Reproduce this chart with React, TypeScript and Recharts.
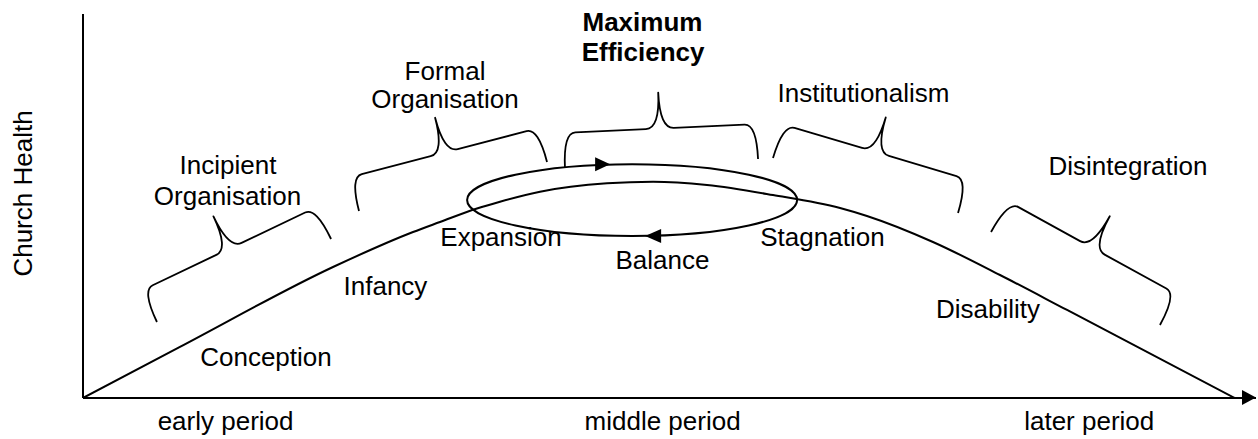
import React from 'react';
import {
  ComposedChart,
  Line,
  XAxis,
  YAxis,
  ReferenceArea,
  ReferenceLine,
  ReferenceDot,
} from 'recharts';

// Life-cycle curve (time vs. church health)
const curveX = [0, 8.43, 21.74, 28.7, 31.04, 34.26, 36.26, 39.74, 45.57, 49.57, 54.26, 60.0, 65.83, 68.17, 73.91, 79.74, 85.57, 100.15];
const curveY = [0, 13.3, 34.11, 43.23, 45.83, 49.35, 51.12, 53.72, 55.91, 56.33, 55.47, 52.86, 49.48, 47.4, 40.63, 32.03, 22.92, 0];

// x-axis period labels
const periodTicks = [12.4, 50.4, 87.5];
const periodLabels = ['early period', 'middle period', 'later period'];

// balance loop (ellipse extent)
const loopX = [33.4, 62.1];
const loopY = [42.2, 60.9];

// braces: start and end points
const braceX1 = [6.43, 24.0, 41.91, 60.0, 78.96];
const braceY1 = [19.79, 48.7, 59.9, 62.5, 43.23];
const braceX2 = [21.57, 40.35, 58.7, 76.09, 93.65];
const braceY2 = [41.41, 61.46, 62.24, 48.18, 19.01];

// stage labels (centre x, baseline y)
const labelText = [
  'Incipient', 'Organisation', 'Conception', 'Infancy', 'Formal', 'Organisation',
  'Maximum', 'Efficiency', 'Expansion', 'Balance', 'Institutionalism', 'Stagnation',
  'Disintegration', 'Disability',
];
const labelX = [12.61, 12.57, 15.91, 26.3, 31.48, 31.48, 48.65, 48.7, 36.35, 50.39, 67.87, 64.3, 90.87, 78.7];
const labelY = [58.33, 50.26, 8.33, 26.82, 82.81, 75.52, 95.57, 87.76, 39.58, 33.59, 77.08, 39.58, 58.07, 20.83];
const labelBold = [false, false, false, false, false, false, true, true, false, false, false, false, false, false];

const yAxisTitle = 'Church Health';

const FONT = '"Liberation Sans", Arial, Helvetica, sans-serif';

const curveData = curveX.map((x, i) => ({ x, y: curveY[i] }));

const PeriodTick = (props: any) => {
  const { x, y, payload } = props;
  const i = periodTicks.indexOf(payload.value);
  return (
    <text x={x} y={y + 32} textAnchor="middle" fontFamily={FONT} fontSize={26} fill="#000">
      {periodLabels[i]}
    </text>
  );
};

const braceShape = (p: any) => {
  const { x1, y1, x2, y2 } = p;
  if ([x1, y1, x2, y2].some((v) => typeof v !== 'number' || isNaN(v))) return <g />;
  const dx = x2 - x1;
  const dy = y2 - y1;
  const L = Math.hypot(dx, dy);
  const ux = dx / L;
  const uy = dy / L;
  const nx = uy;
  const ny = -ux;
  const d = 35;
  const t = 36;
  const h = 12;
  const w = 14;
  const m = L / 2;
  const P = (s: number, o: number) => `${(x1 + ux * s + nx * o).toFixed(2)},${(y1 + uy * s + ny * o).toFixed(2)}`;
  const path =
    `M${P(0, 0)} Q${P(0, d)} ${P(h, d)} L${P(m - w, d)} Q${P(m, d)} ${P(m, d + t)} ` +
    `Q${P(m, d)} ${P(m + w, d)} L${P(L - h, d)} Q${P(L, d)} ${P(L, 0)}`;
  return <path d={path} fill="none" stroke="#000" strokeWidth={1.8} strokeLinejoin="round" />;
};

const loopShape = (p: any) => {
  const { x, y, width, height } = p;
  if ([x, y, width, height].some((v) => typeof v !== 'number' || isNaN(v))) return <g />;
  const cx = x + width / 2;
  const cy = y + height / 2;
  const rx = width / 2;
  const ry = height / 2;
  const top = y;
  const bot = y + height;
  return (
    <g>
      <ellipse cx={cx} cy={cy} rx={rx} ry={ry} fill="none" stroke="#000" strokeWidth={2} />
      <polygon points={`${cx - 22},${top} ${cx - 37},${top - 7} ${cx - 37},${top + 7}`} fill="#000" />
      <polygon points={`${cx + 13},${bot} ${cx + 29},${bot - 7} ${cx + 29},${bot + 7}`} fill="#000" />
    </g>
  );
};

const arrowHead = (p: any) => {
  const { cx, cy } = p;
  return <polygon points={`${cx},${cy - 0.5} ${cx - 14},${cy - 8} ${cx - 14},${cy + 7}`} fill="#000" />;
};

const makeLabel = (i: number) => (p: any) => {
  const { cx, cy } = p;
  return (
    <text
      x={cx}
      y={cy}
      textAnchor="middle"
      fontFamily={FONT}
      fontSize={26}
      fontWeight={labelBold[i] ? 'bold' : 'normal'}
      fill="#000"
    >
      {labelText[i]}
    </text>
  );
};

const yTitle = (props: any) => {
  const vb = props.viewBox || { x: 0, y: 14, width: 83, height: 384 };
  const x = vb.x + 32;
  const y = vb.y + vb.height / 2 - 12.5;
  return (
    <text
      x={x}
      y={y}
      textAnchor="middle"
      fontFamily={FONT}
      fontSize={26}
      fill="#000"
      transform={`rotate(-90, ${x}, ${y})`}
    >
      {yAxisTitle}
    </text>
  );
};

export default function App() {
  return (
    <div style={{ position: 'absolute', left: 0, top: 0, width: 1258, height: 439, background: '#fff' }}>
      <ComposedChart
        width={1258}
        height={439}
        data={curveData}
        margin={{ top: 14, right: 2, bottom: 0, left: 0 }}
      >
        <XAxis
          type="number"
          dataKey="x"
          domain={[0, 102]}
          ticks={periodTicks}
          interval={0}
          tick={<PeriodTick />}
          tickLine={false}
          tickSize={0}
          tickMargin={0}
          axisLine={{ stroke: '#000', strokeWidth: 2 }}
          height={41}
          allowDataOverflow
        />
        <YAxis
          type="number"
          domain={[0, 100]}
          width={83}
          tick={false}
          tickLine={false}
          axisLine={{ stroke: '#000', strokeWidth: 2 }}
          label={yTitle}
          allowDataOverflow
        />
        <Line
          type="monotone"
          dataKey="y"
          stroke="#000"
          strokeWidth={2}
          dot={false}
          activeDot={false}
          isAnimationActive={false}
        />
        <ReferenceArea
          x1={loopX[0]}
          x2={loopX[1]}
          y1={loopY[0]}
          y2={loopY[1]}
          shape={loopShape}
          ifOverflow="visible"
        />
        {braceX1.map((bx, i) => (
          <ReferenceLine
            key={`brace-${i}`}
            segment={[
              { x: bx, y: braceY1[i] },
              { x: braceX2[i], y: braceY2[i] },
            ]}
            shape={braceShape}
            ifOverflow="visible"
          />
        ))}
        {labelText.map((_, i) => (
          <ReferenceDot
            key={`lbl-${i}`}
            x={labelX[i]}
            y={labelY[i]}
            r={0}
            shape={makeLabel(i)}
            ifOverflow="visible"
          />
        ))}
        <ReferenceDot x={102} y={0} r={0} shape={arrowHead} ifOverflow="visible" />
      </ComposedChart>
    </div>
  );
}
